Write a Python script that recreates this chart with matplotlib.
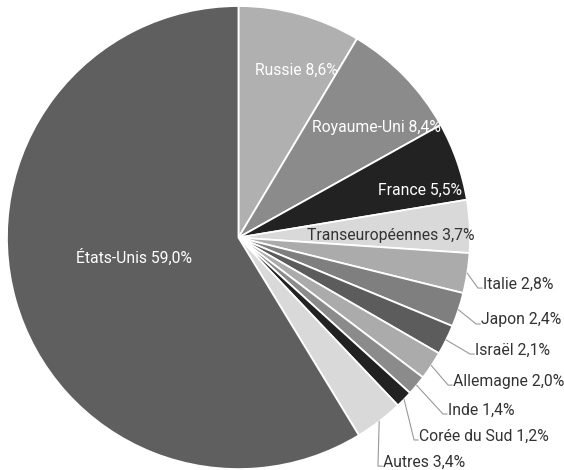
import matplotlib
matplotlib.use("agg")
import matplotlib.pyplot as plt
import numpy as np

plt.rcParams["font.family"] = ["Roboto", "DejaVu Sans"]

countries = ["Russie", "Royaume-Uni", "France", "Transeuropéennes", "Italie",
             "Japon", "Israël", "Allemagne", "Inde", "Corée du Sud", "Autres",
             "États-Unis"]
shares = [8.6, 8.4, 5.5, 3.7, 2.8, 2.4, 2.1, 2.0, 1.4, 1.2, 3.4, 59.0]
colors = ["#b0b0b0", "#8b8b8b", "#222222", "#d9d9d9", "#ababab", "#7f7f7f",
          "#5c5c5c", "#ababab", "#8b8b8b", "#222222", "#d9d9d9", "#5f5f5f"]

# label placement, in pie-radius units (inside labels are centred,
# outside labels are left aligned with a leader line)
label_pos = [(0.248, 0.724), (0.598, 0.477), (0.784, 0.205), (0.659, 0.011),
             (1.056, -0.201), (1.048, -0.356), (1.022, -0.486), (0.927, -0.620),
             (0.905, -0.745), (0.780, -0.857), (0.624, -0.970), (-0.451, -0.084)]
outside = [False, False, False, False, True, True, True, True, True, True, True, False]

fig = plt.figure(figsize=(5.64, 4.70), dpi=100)
ax = fig.add_axes([0, 0, 1, 1])
wedges, _ = ax.pie(shares, colors=colors, startangle=90, counterclock=False,
                   wedgeprops=dict(edgecolor="white", linewidth=1.3))
ax.set_aspect("auto")
ax.set_xlim(-1.030, 1.406)
ax.set_ylim(-1.004, 1.026)
ax.axis("off")

px = 1 / 231.5
for w, name, val, (lx, ly), out, col in zip(wedges, countries, shares, label_pos, outside, colors):
    txt = f"{name} {val:.1f}%".replace(".", ",")
    if out:
        mid = np.deg2rad((w.theta1 + w.theta2) / 2)
        sx, sy = np.cos(mid), np.sin(mid)
        ex, ey = lx - 5 * px, ly - 4 * px
        ax.plot([sx, ex, lx - 1 * px], [sy, ey, ey], color="#999999", lw=0.8)
        ax.text(lx, ly, txt, ha="left", va="center", fontsize=11.3, color="#333333")
    else:
        tc = "#333333" if col == "#d9d9d9" else "white"
        ax.text(lx, ly, txt, ha="center", va="center", fontsize=11.3, color=tc)

plt.savefig("out.png", dpi=100)
